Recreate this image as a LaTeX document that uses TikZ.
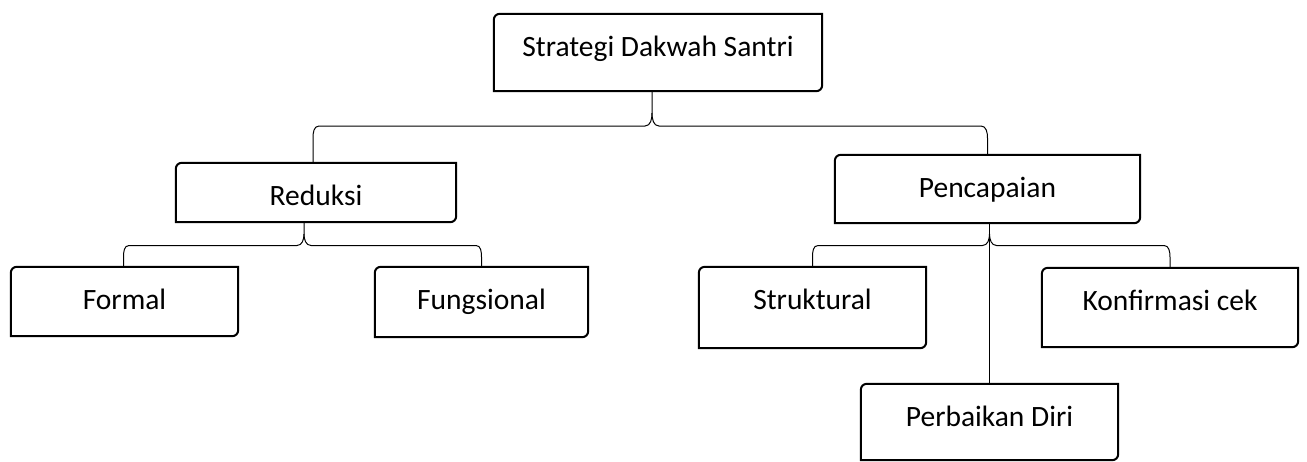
\documentclass[tikz,border=0pt]{standalone}
\usepackage{fontspec}
\setmainfont{Carlito}
\usetikzlibrary{calc}
\newcommand\drawcbox[1]{%
  \draw[boxline] (#1.south west) -- ([yshift=-6pt]#1.north west)
    arc[start angle=180,end angle=90,radius=6pt] -- (#1.north east)
    -- ([yshift=6pt]#1.south east)
    arc[start angle=0,end angle=-90,radius=6pt] -- cycle;}
\begin{document}
\begin{tikzpicture}[x=1pt,y=1pt,
  cbox/.style={inner sep=0pt, text height=42pt, font=\fontsize{29.5}{35}\selectfont},
  boxline/.style={draw=black, line width=2pt},
  conn/.style={draw=black, line width=1pt}]
\useasboundingbox (0,0) rectangle (1307,-461);
\node[cbox, minimum width=328pt, minimum height=77pt, text depth=35pt] (top) at (658,-52.5) {Strategi Dakwah Santri};
\node[cbox, minimum width=280pt, minimum height=59pt, text depth=17pt] (red) at (316,-192.5) {Reduksi};
\node[cbox, minimum width=305pt, minimum height=68pt, text depth=26pt] (pen) at (987.5,-189) {Pencapaian};
\node[cbox, minimum width=227pt, minimum height=69pt, text depth=27pt] (formal) at (124.5,-301.5) {Formal};
\node[cbox, minimum width=213pt, minimum height=70pt, text depth=28pt] (fung) at (481.5,-302) {Fungsional};
\node[cbox, minimum width=227pt, minimum height=81pt, text depth=39pt] (strk) at (812.5,-307.5) {Struktural};
\node[cbox, minimum width=256pt, minimum height=79pt, text depth=37pt] (konf) at (1170,-307.5) {Konfirmasi cek};
\node[cbox, minimum width=257pt, minimum height=76pt, text depth=34pt] (perb) at (989.5,-422) {Perbaikan Diri};
\foreach \n in {top,red,pen,formal,fung,strk,konf,perb} {\drawcbox{\n}}
% top brace
\draw[conn] ([xshift=-6pt]top.south) -- (652,-113) to[out=-90,in=0] (645,-126)
  -- (319,-126) to[out=180,in=90] (313,-138) -- ([xshift=-3pt]red.north);
\draw[conn] (652,-113) to[out=-90,in=180] (659,-126)
  -- (981,-126) to[out=0,in=90] (987.5,-138) -- (pen.north);
% reduksi brace
\draw[conn] ([xshift=-12pt]red.south) -- (304,-234) to[out=-90,in=0] (297,-245.5)
  -- (129,-245.5) to[out=180,in=90] (123.5,-257) -- ([xshift=-1pt]formal.north);
\draw[conn] (304,-234) to[out=-90,in=180] (311,-245.5)
  -- (476,-245.5) to[out=0,in=90] (481.5,-257) -- (fung.north);
% pencapaian brace
\draw[conn] (perb.north) -- (perb.north |- pen.south);
\draw[conn] (989.5,-234) to[out=-90,in=0] (982.5,-245.5)
  -- (818,-245.5) to[out=180,in=90] (812.5,-257) -- (strk.north);
\draw[conn] (989.5,-234) to[out=-90,in=180] (996.5,-245.5)
  -- (1164,-245.5) to[out=0,in=90] (1170,-257) -- (konf.north);
\end{tikzpicture}
\end{document}
